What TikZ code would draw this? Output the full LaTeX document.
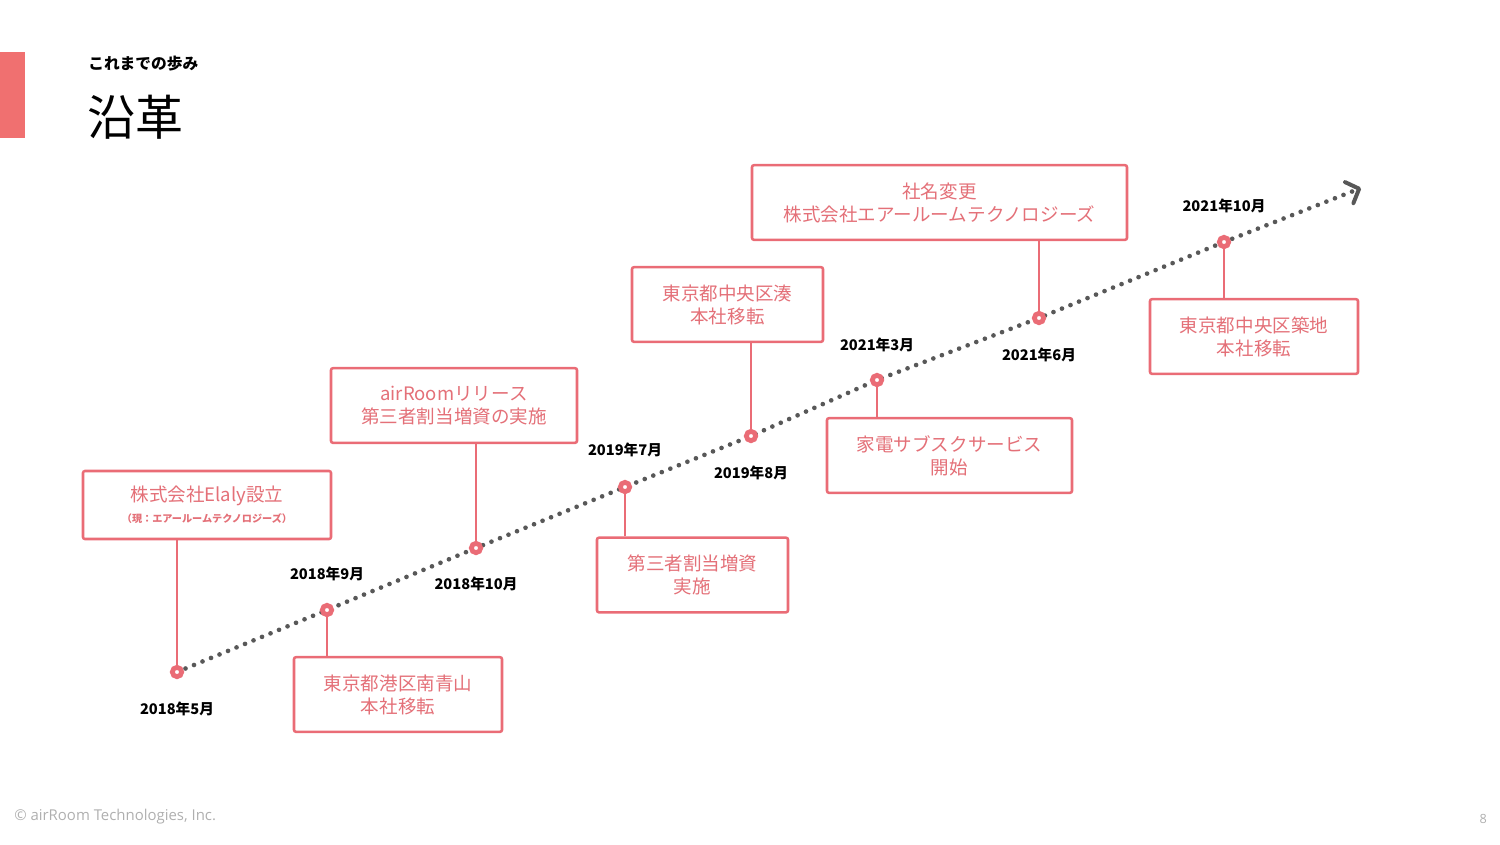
\documentclass[tikz,border=0pt]{standalone}
\usepackage{fontspec}
\setmainfont{Noto Sans CJK JP}
\newfontfamily\footfont{Open Sans}
\usetikzlibrary{arrows.meta}

\definecolor{salmon}{RGB}{234,108,118}
\definecolor{salmontext}{RGB}{228,112,120}
\definecolor{barpink}{RGB}{240,112,112}
\definecolor{dotgray}{RGB}{88,88,88}
\definecolor{footgray}{RGB}{175,175,175}

\begin{document}
\begin{tikzpicture}[x=0.75pt,y=0.75pt,yscale=-1,xscale=1,
  eventbox/.style={draw=salmon,line width=1.9pt,rounded corners=1.5pt,fill=white,text=salmontext,align=center,minimum height=56pt,inner sep=0pt,font=\fontsize{13.9}{17.3}\selectfont},
  datelbl/.style={font=\bfseries\fontsize{11}{13}\selectfont,text=black,inner sep=0pt},
  stem/.style={draw=salmon,line width=1.9pt},
  marker/.style={circle,draw=salmon,line width=3.6pt,fill=white,minimum size=7pt,inner sep=0pt},
  timeline/.style={draw=dotgray,line width=3.5pt,dash pattern=on 0pt off 6.9pt,line cap=round}]
\path[use as bounding box] (0,0) rectangle (1500,844);

%Header
\fill[barpink] (0,52) rectangle (25,138);
% Text Node
\node[anchor=west,inner sep=0pt,font=\bfseries\fontsize{11.8}{13}\selectfont] (subtitle) at (88,64) {これまでの歩み};
% Text Node
\node[anchor=west,inner sep=0pt,font=\fontsize{36}{40}\selectfont] (title) at (87,117) {沿革};

%Timeline points
\coordinate (p1) at (177,672);
\coordinate (p2) at (327,610);
\coordinate (p3) at (476,548);
\coordinate (p4) at (625,487);
\coordinate (p5) at (751,436);
\coordinate (p6) at (877,380);
\coordinate (p7) at (1039,318);
\coordinate (p8) at (1224,242);
\coordinate (tip) at (1361,188);

%Dotted timeline
\draw[timeline,-{Straight Barb[round,length=8pt,width=17pt,line width=3pt]}] (p1) -- (p2) -- (p3) -- (p4) -- (p5) -- (p6) -- (p7) -- (p8) -- (tip);

%Event boxes
\node[eventbox,minimum width=186pt,minimum height=51pt] (b1) at (207,505) {株式会社Elaly設立\\[-1.5pt]{\bfseries\fontsize{7.6}{9}\selectfont （現：エアールームテクノロジーズ）}};
\node[eventbox,minimum width=156pt] (b2) at (398,694.5) {東京都港区南青山\\本社移転};
\node[eventbox,minimum width=184.5pt] (b3) at (454,405.5) {airRoomリリース\\第三者割当増資の実施};
\node[eventbox,minimum width=143.25pt] (b4) at (692.5,575) {第三者割当増資\\実施};
\node[eventbox,minimum width=143.25pt] (b5) at (727.5,304.5) {東京都中央区湊\\本社移転};
\node[eventbox,minimum width=183.75pt] (b6) at (949.5,455.5) {家電サブスクサービス\\開始};
\node[eventbox,minimum width=281.25pt] (b7) at (939.5,202.5) {社名変更\\株式会社エアールームテクノロジーズ};
\node[eventbox,minimum width=156pt] (b8) at (1254,336.5) {東京都中央区築地\\本社移転};

%Stems
\draw[stem] (b1.south -| p1) -- (p1);
\draw[stem] (b2.north -| p2) -- (p2);
\draw[stem] (b3.south -| p3) -- (p3);
\draw[stem] (b4.north -| p4) -- (p4);
\draw[stem] (b5.south -| p5) -- (p5);
\draw[stem] (b6.north -| p6) -- (p6);
\draw[stem] (b7.south -| p7) -- (p7);
\draw[stem] (b8.north -| p8) -- (p8);

%Markers
\foreach \i in {1,...,8} {
  \node[marker] (m\i) at (p\i) {};
}

%Dates
\node[datelbl] (d1) at (177,709) {2018年5月};
\node[datelbl] (d2) at (327,574) {2018年9月};
\node[datelbl] (d3) at (476,584) {2018年10月};
\node[datelbl] (d4) at (625,450) {2019年7月};
\node[datelbl] (d5) at (751,473) {2019年8月};
\node[datelbl] (d6) at (877,345) {2021年3月};
\node[datelbl] (d7) at (1039,355) {2021年6月};
\node[datelbl] (d8) at (1224,206) {2021年10月};

%Footer
% Text Node
\node[anchor=west,inner sep=0pt,text=footgray,font=\footfont\fontsize{11.2}{13}\selectfont] (footer) at (14,817) {© airRoom Technologies, Inc.};
% Text Node
\node[anchor=east,inner sep=0pt,text=footgray,font=\footfont\fontsize{9.5}{11}\selectfont] (pagenum) at (1487,819) {8};
\end{tikzpicture}
\end{document}
